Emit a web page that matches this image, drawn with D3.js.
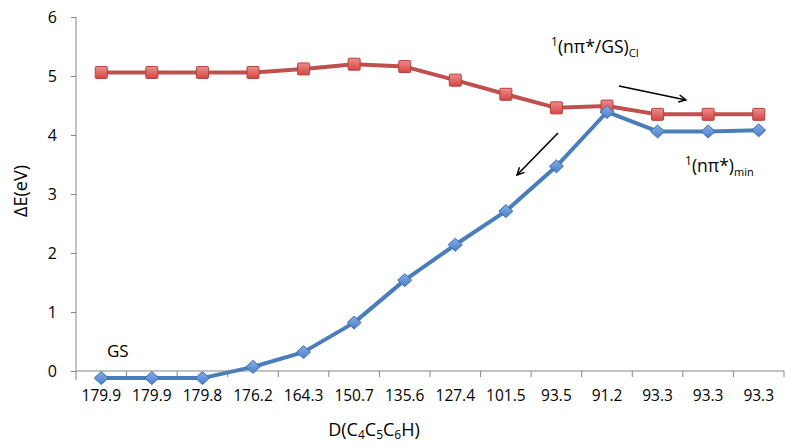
<!DOCTYPE html>
<html>
<head>
<meta charset="utf-8">
<script src="https://cdn.jsdelivr.net/npm/d3@7"></script>
<style>
  html, body { margin: 0; padding: 0; background: #fff; }
  svg { display: block; font-family: "Open Sans", "Noto Sans", sans-serif; }
</style>
</head>
<body>
<svg id="chart" width="785" height="444"></svg>
<script>
// Dihedral angle D(C4C5C6H) along the path, in degrees (category labels)
const categories = ["179.9", "179.9", "179.8", "176.2", "164.3", "150.7", "135.6",
                    "127.4", "101.5", "93.5", "91.2", "93.3", "93.3", "93.3"];
// Energies relative to the ground-state minimum, eV
const ciValues  = [5.06, 5.06, 5.06, 5.06, 5.12, 5.20, 5.16, 4.93, 4.69, 4.46, 4.49, 4.35, 4.35, 4.35];
const minValues = [-0.12, -0.12, -0.12, 0.07, 0.32, 0.82, 1.54, 2.14, 2.71, 3.47, 4.39, 4.06, 4.06, 4.08];
const yTicks = [0, 1, 2, 3, 4, 5, 6];

const svg = d3.select("#chart");
const plotLeft = 76, plotRight = 784, plotTop = 17, zeroY = 371;

const x = d3.scaleBand().domain(d3.range(categories.length)).range([plotLeft, plotRight]);
const y = d3.scaleLinear().domain([0, 6]).range([zeroY, plotTop]);
const yMin = -0.16;

// gradients for markers
const defs = svg.append("defs");
const gRed = defs.append("linearGradient").attr("id", "gRed").attr("x1", 0).attr("y1", 0).attr("x2", 0).attr("y2", 1);
gRed.append("stop").attr("offset", "0%").attr("stop-color", "#F08C8A");
gRed.append("stop").attr("offset", "100%").attr("stop-color", "#D24744");
const gBlue = defs.append("linearGradient").attr("id", "gBlue").attr("x1", 0).attr("y1", 0).attr("x2", 0).attr("y2", 1);
gBlue.append("stop").attr("offset", "0%").attr("stop-color", "#86ADE6");
gBlue.append("stop").attr("offset", "100%").attr("stop-color", "#4A7FCB");
const arrowDef = defs.append("marker").attr("id", "arrowHead")
  .attr("viewBox", "0 0 10 10").attr("refX", 9).attr("refY", 5)
  .attr("markerWidth", 9).attr("markerHeight", 9).attr("orient", "auto")
  .attr("markerUnits", "userSpaceOnUse");
arrowDef.append("path").attr("d", "M1,1 L9,5 L1,9").attr("fill", "none").attr("stroke", "#000").attr("stroke-width", 1.6);

const axisColor = "#868686";

// y axis
const yAxis = svg.append("g").attr("transform", `translate(${plotLeft},0)`)
  .call(d3.axisLeft(y).tickValues(yTicks).tickSize(5).tickPadding(14).tickFormat(d3.format("d")));
yAxis.select(".domain").attr("d", `M0,${y(6)}V${y(yMin)}`).attr("stroke", axisColor);
yAxis.selectAll(".tick line").attr("stroke", axisColor);
yAxis.selectAll(".tick text").attr("font-size", 16).attr("fill", "#000")
  .attr("font-family", "Open Sans, sans-serif");

// x axis at zero
const xAxis = svg.append("g").attr("transform", `translate(0,${zeroY})`)
  .call(d3.axisBottom(x).tickSize(0).tickFormat(i => categories[i]));
xAxis.select(".domain").attr("d", `M${plotLeft},0H${plotRight}`).attr("stroke", axisColor);
xAxis.selectAll(".tick text").attr("font-size", 15.5).attr("fill", "#000")
  .attr("font-family", "Open Sans, sans-serif").attr("y", 0).attr("dy", "1.95em");
// boundaries between categories
xAxis.selectAll(".sep").data(d3.range(1, categories.length + 1)).join("line")
  .attr("x1", i => plotLeft + i * x.step()).attr("x2", i => plotLeft + i * x.step())
  .attr("y1", 0).attr("y2", 6).attr("stroke", axisColor);

const cx = i => x(i) + x.bandwidth() / 2;

const line = d3.line().x((d, i) => cx(i)).y(d => y(d));

// red series: conical intersection energies
svg.append("path").datum(ciValues).attr("d", line)
  .attr("fill", "none").attr("stroke", "#C0504D").attr("stroke-width", 4).attr("stroke-linejoin", "round");
// blue series: minimum energies
svg.append("path").datum(minValues).attr("d", line)
  .attr("fill", "none").attr("stroke", "#4A7EBB").attr("stroke-width", 4).attr("stroke-linejoin", "round");

svg.selectAll(".sq").data(ciValues).join("rect")
  .attr("x", (d, i) => cx(i) - 6).attr("y", d => y(d) - 6)
  .attr("width", 12).attr("height", 12).attr("rx", 1)
  .attr("fill", "url(#gRed)").attr("stroke", "#B6403D").attr("stroke-width", 1);

svg.selectAll(".dm").data(minValues).join("path")
  .attr("d", (d, i) => `M${cx(i)},${y(d) - 6.5}L${cx(i) + 7},${y(d)}L${cx(i)},${y(d) + 6.5}L${cx(i) - 7},${y(d)}Z`)
  .attr("fill", "url(#gBlue)").attr("stroke", "#3C6EB0").attr("stroke-width", 1);

// axis titles
svg.append("text").attr("transform", "translate(27,191) rotate(-90)")
  .attr("text-anchor", "middle").attr("font-size", 18).text("ΔE(eV)");

const xt = svg.append("text").attr("x", 374).attr("y", 436).attr("text-anchor", "middle").attr("font-size", 18);
xt.append("tspan").text("D(C");
xt.append("tspan").attr("font-size", 12).attr("dy", 3).text("4");
xt.append("tspan").attr("dy", -3).text("C");
xt.append("tspan").attr("font-size", 12).attr("dy", 3).text("5");
xt.append("tspan").attr("dy", -3).text("C");
xt.append("tspan").attr("font-size", 12).attr("dy", 3).text("6");
xt.append("tspan").attr("dy", -3).text("H)");

// annotations
svg.append("text").attr("x", 107).attr("y", 357).attr("font-size", 17).text("GS");

const t1 = svg.append("text").attr("x", 551).attr("y", 53).attr("font-size", 17.5);
t1.append("tspan").attr("font-size", 12).attr("dy", -7).text("1");
t1.append("tspan").attr("dy", 7).text("(nπ*/GS)");
t1.append("tspan").attr("font-size", 11).attr("dy", 4).text("CI");

const t2 = svg.append("text").attr("x", 685).attr("y", 172).attr("font-size", 17.5);
t2.append("tspan").attr("font-size", 12).attr("dy", -7).text("1");
t2.append("tspan").attr("dy", 7).text("(nπ*)");
t2.append("tspan").attr("font-size", 11).attr("dy", 4).text("min");

svg.append("line").attr("x1", 619).attr("y1", 86).attr("x2", 686).attr("y2", 100)
  .attr("stroke", "#000").attr("stroke-width", 1.6).attr("marker-end", "url(#arrowHead)");
svg.append("line").attr("x1", 558).attr("y1", 133).attr("x2", 517).attr("y2", 175)
  .attr("stroke", "#000").attr("stroke-width", 1.6).attr("marker-end", "url(#arrowHead)");
</script>
</body>
</html>
